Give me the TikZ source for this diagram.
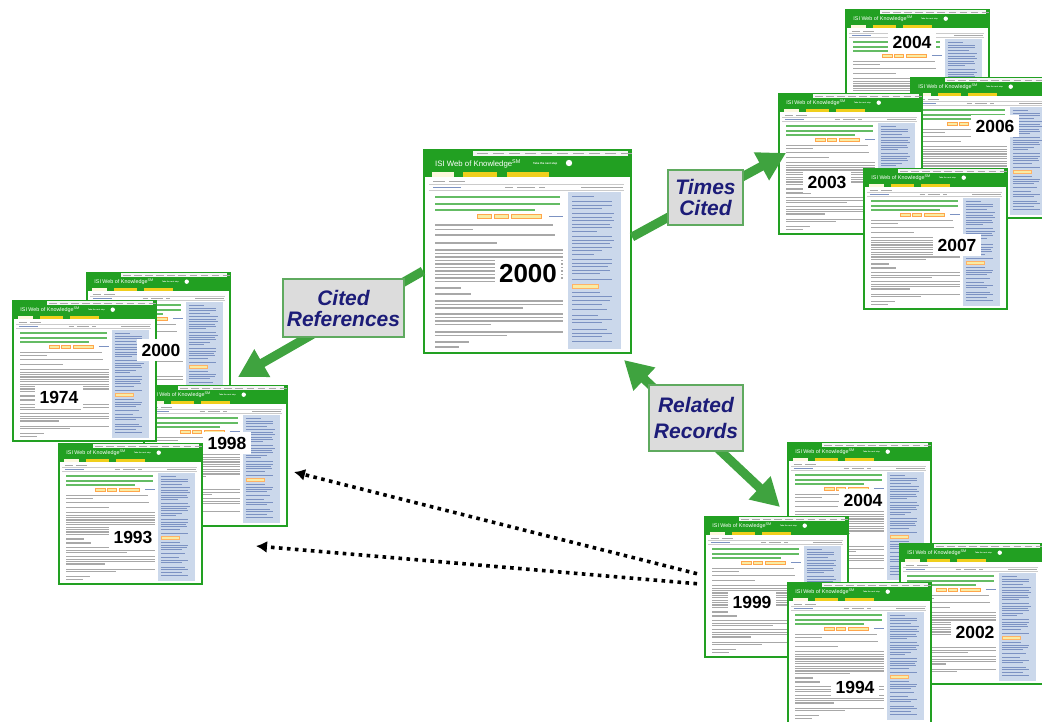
\documentclass[tikz,border=0pt]{standalone}
\usepackage{fontspec}
\setmainfont{Liberation Sans}
\usepackage{tikz}
\usetikzlibrary{arrows.meta}
\definecolor{cWok}{HTML}{22A022}
\definecolor{cArrow}{HTML}{3FA33F}
\definecolor{cTagFill}{HTML}{DCDCDC}
\definecolor{cTagLine}{HTML}{5FAA5F}
\definecolor{cNavy}{HTML}{1C1C78}
\definecolor{cSide}{HTML}{CBD8EB}
\definecolor{cTab}{HTML}{F0CF1C}
\definecolor{cInk}{HTML}{A8A8A8}
\definecolor{cLink}{HTML}{7C92C2}
\tikzset{
  shot/.style    = {rectangle, draw=cWok, fill=white, line width=2pt, inner sep=0pt,
                    minimum width=207pt, minimum height=203pt, anchor=north west},
  logo/.style    = {anchor=west, inner sep=0pt, text=white},
  yr/.style      = {fill=white, inner xsep=5pt, inner ysep=5pt,
                    font=\bfseries\fontsize{17.5}{18}\selectfont},
  yrbig/.style   = {yr, inner xsep=4pt, inner ysep=5pt,
                    font=\bfseries\fontsize{26}{27}\selectfont},
  tag/.style     = {rectangle, draw=cTagLine, fill=cTagFill, line width=1.8pt, align=center,
                    inner sep=2pt, text=cNavy, font=\bfseries\itshape\fontsize{21}{22}\selectfont},
  big/.style     = {draw=cArrow, line width=9pt, -{Triangle[length=28pt,width=30pt]}},
  bigboth/.style = {draw=cArrow, line width=9pt,
                    {Triangle[length=28pt,width=30pt]}-{Triangle[length=28pt,width=30pt]}},
  dots/.style    = {draw=black, line width=3.6pt, dash pattern=on 3.6pt off 4.4pt,
                    -{Latex[length=11pt,width=12pt]}},
  ink/.style     = {draw=cInk, line width=1.2pt},
}
% one record page of the web site, drawn at its top left corner
\newcommand{\wokshot}[3]{%
  \begin{scope}[shift={#2}, scale=#3, transform shape]
    \node[shot] (#1) at (0,0) {};
    \fill[cWok] (0,0) rectangle (207,28);
    \fill[white!88!cInk] (50,2) rectangle (205,7);
    \foreach \x in {54,70,...,198}
      \draw[cInk, line width=0.6pt] (\x,4.5) -- ++(11,0);
    \node[logo, font=\fontsize{7.8}{8}\selectfont] (#1-logo) at (12,14.5) {ISI Web of Knowledge\textsuperscript{SM}};
    \node[logo, font=\bfseries\fontsize{2.8}{3}\selectfont] (#1-step) at (110,14.5) {Take the next step};
    \fill[white] (146,14) circle (3.2);
    \fill[white!85!cTab] (9,23) rectangle (31,28);
    \fill[cTab] (40,23) rectangle (74,28);
    \fill[cTab] (84,23) rectangle (126,28);
    \draw[cInk!60, line width=0.4pt] (6,35) -- (201,35) (6,41.5) -- (201,41.5);
    \draw[cInk, line width=0.8pt] (10,32) -- ++(12,0) (26,32) -- ++(16,0);
    \draw[cLink, line width=0.9pt] (10,38.5) -- ++(28,0);
    \draw[cInk, line width=0.9pt] (82,38.5) -- ++(8,0) (94,38.5) -- ++(18,0)
      (116,38.5) -- ++(6,0) (158,38.5) -- ++(42,0);
    \fill[cSide] (145,43) rectangle (198,200);
    \foreach \y/\l in {48.5/125,55/125,61.5/100}
      \draw[cWok!70, line width=2pt] (12,\y) -- ++(\l,0);
    \foreach \x/\w in {54/14,71/14,88/30}
      \filldraw[fill=cTab!40, draw=orange!70, line width=0.4pt] (\x,65) rectangle ++(\w,4.5);
    \draw[cLink, line width=0.9pt] (126,67.2) -- ++(14,0);
    \foreach \y/\l in {76/118,80.5/38,86/120,94/62,101/128,104.5/128,108/128,111.5/128,
        115/128,118.5/128,122/128,125.5/128,129/128,132.5/80,139/26,145/36,152/128,
        155.5/128,159/88,165/128,168.5/128,172/128,175.5/56,183/128,186.5/72,193/34,198/24}
      \draw[ink] (12,\y) -- ++(\l,0);
    \foreach \y/\l in {48/22,53/40,56.5/40,60/30,65/42,68.5/40,72/42,75.5/38,79/40,
        82.5/25,88/40,91.5/42,95/38,98.5/40,102/30,105.5/22,111/40,114.5/40,118/36,
        121.5/38,125/28,131/40,144/28,148/40,151.5/38,155/30,160/35,166/26,170/40,
        173.5/30,180/35,184/40,187.5/30,192/40}
      \draw[cLink, line width=1pt] (149,\y) -- ++(\l,0);
    \filldraw[fill=cTab!40, draw=orange!60, line width=0.4pt] (149,135) rectangle ++(26,4);
  \end{scope}}

\begin{document}
\begin{tikzpicture}[x=1pt, y=-1pt]
  \useasboundingbox (0,0) rectangle (1042,722);
  \clip (0,0) rectangle (1042,722);
  \fill[white] (0,0) rectangle (1042,722);

  % cited references
  \wokshot{ref00}{(86,272)}{0.69}
  \wokshot{ref98}{(143,385)}{0.69}
  \wokshot{ref74}{(12,300)}{0.69}
  \wokshot{ref93}{(58,443)}{0.69}
  % times cited
  \wokshot{cit04}{(845,9)}{0.69}
  \wokshot{cit06}{(910,77)}{0.69}
  \wokshot{cit03}{(778,93)}{0.69}
  \wokshot{cit07}{(863,168)}{0.69}
  % related records
  \wokshot{rel04}{(787,442)}{0.69}
  \wokshot{rel99}{(704,516)}{0.69}
  \wokshot{rel02}{(899,543)}{0.69}
  \wokshot{rel94}{(787,582)}{0.69}
  % the record itself
  \wokshot{main}{(423,149)}{1}

  \node[yrbig] (main-yr) at (528,274) {2000};
  \node[yr] (ref00-yr) at (161,350) {2000};
  \node[yr] (ref74-yr) at (59,397) {1974};
  \node[yr] (ref98-yr) at (227,443) {1998};
  \node[yr] (ref93-yr) at (133,537) {1993};
  \node[yr] (cit04-yr) at (912,42) {2004};
  \node[yr] (cit06-yr) at (995,126) {2006};
  \node[yr] (cit03-yr) at (827,182) {2003};
  \node[yr] (cit07-yr) at (957,245) {2007};
  \node[yr] (rel04-yr) at (863,500) {2004};
  \node[yr] (rel99-yr) at (752,602) {1999};
  \node[yr] (rel02-yr) at (975,632) {2002};
  \node[yr] (rel94-yr) at (855,687) {1994};

  \coordinate (refTip) at (238,377);
  \coordinate (citTip) at (786,153);
  \coordinate (relTip) at (780,507);
  \coordinate (dotTipA) at (294,472);
  \coordinate (dotTipB) at (256,546);

  \draw[big] ([yshift=-19.5pt]main.west) -- (refTip);
  \draw[big] ([yshift=14.5pt]main.east) -- (citTip);
  \draw[bigboth] ([shift={(-8pt,-6pt)}]main.south east) -- (relTip);
  \draw[dots] ([shift={(-7pt,13pt)}]rel99.west) -- (dotTipA);
  \draw[dots] ([shift={(-7pt,3pt)}]rel99.west) -- (dotTipB);

  \node[tag, minimum width=121pt, minimum height=58pt] (tagref) at (343.5,308) {Cited\\[-1pt]References};
  \node[tag, minimum width=75pt, minimum height=55pt] (tagcit) at (705.5,197.5) {Times\\[-1pt]Cited};
  \node[tag, minimum width=94pt, minimum height=66pt] (tagrel) at (696,418) {Related\\[4pt]Records};
\end{tikzpicture}
\end{document}
